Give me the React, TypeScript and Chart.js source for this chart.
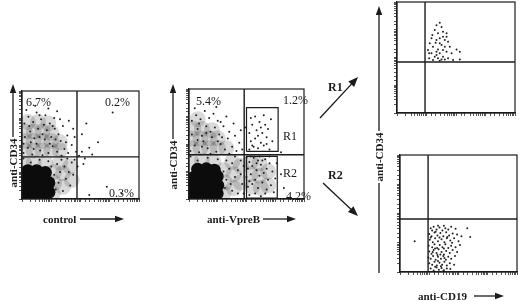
import React, { useEffect, useRef } from "react";
import { Chart, registerables } from "chart.js";
Chart.register(...registerables);

type Pt = [number, number];

// All event coordinates are in decades of log10 fluorescence (0 .. 4).
const AXIS_RANGE: [number, number] = [0, 4];

// ---- Panel A: control vs anti-CD34 ----
const controlQuadrant: Pt = [1.88, 1.56];
const controlCore: Pt[] = [
  [0.12, 0.15], [0.42, 0.12], [0.72, 0.15], [0.92, 0.25], [0.12, 0.45], [0.42, 0.45], [0.72, 0.45],
  [0.92, 0.6], [0.12, 0.75], [0.42, 0.78], [0.72, 0.75], [0.2, 1.05], [0.5, 1.05], [0.8, 0.98],
];
const controlHaze: Pt[] = [
  [1.05, 0.2], [1.1, 0.6], [1.1, 1.0], [0.8, 1.3], [0.4, 1.35], [0.08, 1.3], [1.4, 0.45], [1.4, 0.95],
  [1.3, 1.35], [1.65, 1.2], [1.7, 0.7],
  [0.1, 1.8], [0.4, 1.8], [0.7, 1.8], [1.0, 1.8], [1.3, 1.8], [0.1, 2.15], [0.4, 2.15], [0.7, 2.15],
  [1.0, 2.15], [1.3, 2.1], [0.1, 2.5], [0.4, 2.5], [0.7, 2.5], [1.0, 2.45], [0.2, 2.85], [0.55, 2.85], [0.9, 2.8],
];
const controlEvents: Pt[] = [
  [0.05, 1.7], [0.2, 1.9], [0.35, 1.65], [0.5, 2.05], [0.62, 1.8], [0.78, 2.2], [0.9, 1.7], [1.05, 1.95],
  [1.2, 1.75], [1.32, 2.15], [1.45, 1.85], [1.58, 1.7], [1.7, 2.0], [0.1, 2.3], [0.28, 2.5], [0.42, 2.25],
  [0.55, 2.6], [0.7, 2.4], [0.85, 2.55], [1.0, 2.3], [1.12, 2.6], [1.25, 2.4], [1.4, 2.7], [1.55, 2.35],
  [0.08, 2.8], [0.22, 3.05], [0.38, 2.85], [0.5, 3.2], [0.65, 2.95], [0.8, 3.1], [0.95, 2.8], [1.1, 3.0],
  [1.3, 2.95], [1.6, 2.9], [1.75, 2.6], [0.15, 3.3], [0.45, 3.45], [0.9, 3.35], [1.2, 3.25], [0.3, 2.1],
  [0.6, 2.3], [0.95, 2.05], [1.15, 2.2], [0.05, 2.05], [0.4, 1.85], [0.7, 1.62], [1.35, 1.6], [1.5, 2.1],
  [1.85, 1.75], [1.8, 2.3], [0.25, 2.7], [0.75, 2.75], [1.05, 2.7], [0.6, 3.1],
  [1.05, 0.1], [1.15, 0.35], [1.25, 0.6], [1.1, 0.9], [1.3, 1.0], [1.4, 0.3], [1.5, 0.75], [1.45, 1.2],
  [1.6, 1.0], [1.7, 1.35], [1.8, 1.45], [1.65, 0.5], [1.2, 1.3], [1.35, 1.45], [0.9, 1.4], [0.6, 1.45],
  [0.3, 1.35], [0.05, 1.5], [1.55, 1.5], [1.75, 0.9], [1.0, 1.2], [1.9, 1.2],
  [1.95, 1.6], [2.05, 1.75], [2.15, 1.5], [2.3, 1.9], [2.05, 2.4], [2.2, 2.8], [2.4, 1.65], [2.1, 1.3],
  [2.3, 0.15], [2.9, 0.45], [3.4, 0.2], [2.6, 2.1], [3.1, 3.2],
];

// ---- Panel B: anti-VpreB vs anti-CD34 ----
const vpreBQuadrant: Pt = [1.92, 1.61];
const gateR1: [number, number, number, number] = [2.0, 1.73, 3.1, 3.32];
const gateR2: [number, number, number, number] = [2.0, 0.03, 3.07, 1.55];
const vpreBCore: Pt[] = [
  [0.12, 0.15], [0.42, 0.12], [0.72, 0.15], [0.98, 0.2], [0.12, 0.45], [0.42, 0.45], [0.72, 0.45],
  [1.0, 0.5], [0.15, 0.78], [0.45, 0.8], [0.75, 0.78], [0.98, 0.82], [0.3, 1.08], [0.6, 1.1], [0.88, 1.05],
];
const vpreBHaze: Pt[] = [
  [1.2, 0.2], [1.25, 0.6], [1.2, 1.05], [0.85, 1.35], [0.45, 1.4], [0.08, 1.35], [1.55, 0.4], [1.55, 0.9],
  [1.5, 1.35], [1.8, 1.2], [1.8, 0.6],
  [2.15, 1.35], [2.45, 1.3], [2.15, 0.9], [2.45, 0.85], [2.2, 0.45], [2.5, 0.4], [2.75, 1.0], [2.75, 0.5],
  [0.1, 1.85], [0.4, 1.85], [0.7, 1.85], [1.0, 1.85], [1.3, 1.85], [0.1, 2.2], [0.4, 2.2], [0.7, 2.2],
  [1.0, 2.2], [0.15, 2.55], [0.45, 2.55], [0.8, 2.5], [0.3, 2.9],
];
const vpreBEvents: Pt[] = [
  [0.05, 1.75], [0.2, 1.95], [0.35, 1.7], [0.5, 2.1], [0.65, 1.85], [0.8, 2.25], [0.95, 1.72], [1.1, 2.0],
  [1.25, 1.8], [1.35, 2.2], [1.5, 1.9], [1.65, 1.75], [1.75, 2.05], [0.1, 2.35], [0.3, 2.55], [0.45, 2.3],
  [0.6, 2.65], [0.75, 2.45], [0.9, 2.6], [1.05, 2.35], [1.2, 2.65], [1.4, 2.45], [1.55, 2.75], [0.1, 2.85],
  [0.25, 3.05], [0.4, 2.9], [0.55, 3.2], [0.7, 2.95], [0.85, 3.1], [1.0, 2.85], [1.3, 3.0], [1.6, 2.3],
  [0.3, 2.15], [0.6, 2.4], [1.0, 2.1], [1.15, 2.25], [0.45, 1.9], [0.75, 1.65], [1.4, 1.65], [1.85, 1.8],
  [1.8, 2.5], [0.2, 3.3], [0.95, 3.35], [0.35, 2.75], [1.1, 2.8],
  [1.15, 0.1], [1.25, 0.4], [1.3, 0.7], [1.2, 1.0], [1.4, 1.1], [1.5, 0.3], [1.6, 0.8], [1.5, 1.3],
  [1.7, 1.05], [1.8, 1.4], [1.85, 0.55], [1.7, 0.2], [1.3, 1.4], [1.0, 1.45], [0.65, 1.5], [0.3, 1.4],
  [0.05, 1.55], [1.6, 1.55], [1.8, 0.9], [1.9, 0.2], [1.45, 0.55], [1.9, 1.2],
  [2.0, 1.5], [2.1, 1.35], [2.25, 1.5], [2.4, 1.4], [2.05, 1.1], [2.2, 1.2], [2.35, 1.05], [2.5, 1.25],
  [2.65, 1.45], [2.8, 1.3], [2.0, 0.8], [2.15, 0.9], [2.3, 0.7], [2.45, 0.85], [2.6, 0.95], [2.75, 0.7],
  [2.9, 1.0], [2.05, 0.45], [2.2, 0.55], [2.4, 0.4], [2.55, 0.6], [2.7, 0.35], [2.85, 0.5], [3.0, 0.75],
  [2.1, 0.15], [2.3, 0.2], [2.5, 0.1], [2.65, 0.2], [2.95, 0.25], [2.15, 1.55], [2.45, 1.55], [2.7, 1.1],
  [3.05, 1.3], [2.35, 1.3], [2.55, 1.4], [2.1, 0.65], [3.2, 0.9], [3.3, 0.4], [2.8, 1.55],
  [2.1, 1.8], [2.25, 1.9], [2.4, 1.85], [2.6, 1.95], [2.8, 1.8], [2.15, 2.1], [2.3, 2.2], [2.5, 2.05],
  [2.7, 2.25], [2.9, 2.1], [2.1, 2.4], [2.35, 2.5], [2.55, 2.4], [2.75, 2.55], [2.2, 2.7], [2.45, 2.8],
  [2.65, 2.7], [2.85, 2.9], [2.3, 3.0], [2.6, 3.05], [2.15, 2.95], [2.5, 2.6], [2.4, 2.3], [2.2, 1.95],
  [2.7, 2.0], [3.2, 1.7], [1.95, 2.6],
];

// ---- Panel C: R1 gated, anti-CD19 vs anti-CD34 ----
const r1Quadrant: Pt = [0.95, 1.84];
const r1Events: Pt[] = [
  [1.45, 3.25], [1.34, 3.16], [1.51, 3.1], [1.28, 2.99], [1.56, 2.93], [1.68, 2.87], [1.39, 2.87],
  [1.17, 2.69], [1.45, 2.69], [1.62, 2.63], [1.73, 2.57], [1.31, 2.53], [1.11, 2.51], [1.51, 2.45],
  [1.79, 2.39], [1.22, 2.39], [1.39, 2.29], [1.56, 2.27], [1.34, 2.21], [1.68, 2.21], [1.17, 2.15],
  [1.45, 2.15], [2.02, 2.29], [2.13, 2.21], [1.85, 2.15], [1.28, 2.03], [1.39, 1.97], [1.56, 2.03],
  [1.51, 1.93], [1.73, 1.97], [1.09, 1.97], [1.22, 1.91], [2.13, 1.93], [1.34, 2.09], [1.62, 2.39],
  [1.45, 2.51], [1.2, 2.81], [1.56, 2.75], [1.68, 2.75], [1.34, 2.63], [1.05, 2.27], [1.09, 2.15],
  [1.9, 1.91], [1.45, 1.88], [1.62, 1.93],
];

// ---- Panel D: R2 gated, anti-CD19 vs anti-CD34 ----
const r2Quadrant: Pt = [0.96, 1.81];
const r2Events: Pt[] = [
  [1.05, 1.5], [1.15, 1.55], [1.25, 1.45], [1.35, 1.52], [1.45, 1.42], [1.55, 1.5], [1.65, 1.45],
  [1.75, 1.55], [1.9, 1.48], [2.3, 1.5], [2.4, 1.2], [1.1, 1.42], [1.3, 1.58], [1.5, 1.58],
  [1.0, 1.3], [1.08, 1.22], [1.18, 1.35], [1.28, 1.25], [1.38, 1.33], [1.48, 1.22], [1.58, 1.36],
  [1.68, 1.25], [1.8, 1.32], [1.95, 1.28], [2.1, 1.22], [1.22, 1.38], [1.62, 1.2], [0.5, 1.05],
  [1.02, 1.1], [1.12, 1.02], [1.2, 1.15], [1.3, 1.05], [1.42, 1.12], [1.52, 1.02], [1.6, 1.15],
  [1.72, 1.08], [1.85, 1.15], [2.0, 1.05], [1.05, 1.18], [1.35, 1.18], [1.78, 1.0],
  [0.98, 0.9], [1.1, 0.85], [1.18, 0.95], [1.27, 0.82], [1.36, 0.92], [1.45, 0.85], [1.55, 0.95],
  [1.65, 0.82], [1.75, 0.9], [1.9, 0.85], [2.05, 0.92], [1.2, 0.8], [1.5, 0.8],
  [1.0, 0.7], [1.08, 0.62], [1.15, 0.75], [1.25, 0.65], [1.32, 0.78], [1.42, 0.68], [1.5, 0.6],
  [1.58, 0.72], [1.7, 0.65], [1.8, 0.75], [1.95, 0.68], [1.38, 0.6], [1.12, 0.68],
  [0.97, 0.5], [1.05, 0.45], [1.13, 0.55], [1.22, 0.42], [1.3, 0.52], [1.4, 0.45], [1.48, 0.55],
  [1.57, 0.42], [1.65, 0.52], [1.75, 0.45], [1.88, 0.55], [1.28, 0.58], [1.52, 0.48],
  [1.0, 0.3], [1.1, 0.25], [1.18, 0.35], [1.26, 0.22], [1.35, 0.32], [1.44, 0.25], [1.52, 0.35],
  [1.6, 0.22], [1.7, 0.3], [1.85, 0.25], [1.3, 0.38], [1.4, 0.2],
  [1.05, 0.12], [1.15, 0.05], [1.25, 0.15], [1.33, 0.08], [1.42, 0.14], [1.5, 0.06], [1.6, 0.12],
  [1.72, 0.1], [1.2, 0.18], [1.45, 0.02],
];

// ---- Layout (pixel boxes of the plot frames) ----
type Box = [number, number, number, number];
interface PanelSpec {
  box: Box;
  quad: Pt;
  core?: Pt[];
  haze?: Pt[];
  events: Pt[];
  gates?: Box[];
}

const PANELS: PanelSpec[] = [
  { box: [22, 91, 139, 199], quad: controlQuadrant, core: controlCore, haze: controlHaze, events: controlEvents },
  { box: [189, 89, 304, 199], quad: vpreBQuadrant, core: vpreBCore, haze: vpreBHaze, events: vpreBEvents, gates: [gateR1, gateR2] },
  { box: [397, 2, 515, 113], quad: r1Quadrant, events: r1Events },
  { box: [400, 155, 517, 272], quad: r2Quadrant, events: r2Events },
];

const INK = "#1b1b1b";
const SERIF = '"Liberation Serif", "Times New Roman", serif';

const toPt = (p: Pt) => ({ x: Math.pow(10, p[0]), y: Math.pow(10, p[1]) });
const LO = Math.pow(10, AXIS_RANGE[0]);
const HI = Math.pow(10, AXIS_RANGE[1]);

const framePlugin = {
  id: "frame",
  afterDatasetsDraw(chart: any) {
    const { ctx, chartArea: a } = chart;
    ctx.save();
    ctx.strokeStyle = INK;
    ctx.lineWidth = 1.2;
    ctx.strokeRect(a.left, a.top, a.right - a.left, a.bottom - a.top);
    ctx.restore();
  },
};

function buildConfig(spec: PanelSpec): any {
  const datasets: any[] = [];
  const line = (pts: { x: number; y: number }[]) => ({
    data: pts,
    showLine: true,
    borderColor: INK,
    borderWidth: 1.4,
    pointRadius: 0,
    tension: 0,
    clip: 0,
  });
  const qx = Math.pow(10, spec.quad[0]);
  const qy = Math.pow(10, spec.quad[1]);
  datasets.push(line([{ x: qx, y: LO }, { x: qx, y: HI }]));
  datasets.push(line([{ x: LO, y: qy }, { x: HI, y: qy }]));
  (spec.gates || []).forEach((g) => {
    const [x0, y0, x1, y1] = g;
    datasets.push({
      ...line([[x0, y0], [x1, y0], [x1, y1], [x0, y1], [x0, y0]].map((p) => toPt(p as Pt))),
      borderWidth: 1.2,
    });
  });
  datasets.push({
    data: spec.events.map(toPt),
    pointRadius: 1,
    backgroundColor: "#222",
    borderWidth: 0,
    clip: 0,
  });
  if (spec.core) {
    datasets.push({
      data: spec.core.map(toPt),
      pointRadius: 6.5,
      backgroundColor: "#0c0c0c",
      borderWidth: 0,
      clip: 0,
    });
  }
  if (spec.haze) {
    datasets.push({
      data: spec.haze.map(toPt),
      pointRadius: 8,
      backgroundColor: "rgba(0,0,0,0.15)",
      borderWidth: 0,
      clip: 0,
    });
  }
  const axis = {
    type: "logarithmic",
    min: LO,
    max: HI,
    ticks: { display: false },
    grid: { drawOnChartArea: false, drawTicks: true, tickLength: 3, color: "#555", tickColor: "#555" },
    border: { display: true, color: INK, width: 1.2 },
  };
  return {
    type: "scatter",
    data: { datasets },
    options: {
      animation: false,
      responsive: false,
      events: [],
      layout: { autoPadding: false, padding: { left: 2, top: 2, right: 2, bottom: 2 } },
      plugins: { legend: { display: false }, tooltip: { enabled: false } },
      scales: { x: { ...axis }, y: { ...axis } },
    },
    plugins: [framePlugin],
  };
}

function Panel({ spec }: { spec: PanelSpec }) {
  const ref = useRef<HTMLCanvasElement>(null);
  useEffect(() => {
    const chart = new Chart(ref.current as HTMLCanvasElement, buildConfig(spec));
    return () => chart.destroy();
  }, [spec]);
  const [l, t, r, b] = spec.box;
  const left = l - 5;
  const top = t - 2;
  const w = r - left + 2;
  const h = b + 5 - top;
  return (
    <canvas
      ref={ref}
      width={w}
      height={h}
      style={{ position: "absolute", left, top, width: w, height: h }}
    />
  );
}

function Label({ x, y, text, bold, size = 11, rotate }: { x: number; y: number; text: string; bold?: boolean; size?: number; rotate?: boolean }) {
  const style: React.CSSProperties = {
    position: "absolute",
    left: x,
    top: y,
    fontFamily: SERIF,
    fontWeight: bold ? 700 : 400,
    fontSize: size,
    lineHeight: 1,
    color: INK,
    whiteSpace: "nowrap",
    transform: rotate ? "translate(-50%, -50%) rotate(-90deg)" : "translate(0, -50%)",
  };
  return <div style={style}>{text}</div>;
}

function Arrow({ x1, y1, x2, y2, head = 9, half = 3.2 }: { x1: number; y1: number; x2: number; y2: number; head?: number; half?: number }) {
  const dx = x2 - x1;
  const dy = y2 - y1;
  const len = Math.hypot(dx, dy);
  const ux = dx / len;
  const uy = dy / len;
  const bx = x2 - ux * head;
  const by = y2 - uy * head;
  const pts = `${x2},${y2} ${bx - uy * half},${by + ux * half} ${bx + uy * half},${by - ux * half}`;
  return (
    <g>
      <line x1={x1} y1={y1} x2={bx + ux} y2={by + uy} stroke={INK} strokeWidth={1.3} />
      <polygon points={pts} fill={INK} />
    </g>
  );
}

export default function App() {
  return (
    <div style={{ position: "absolute", left: 0, top: 0, width: 520, height: 301, background: "#fff", overflow: "hidden" }}>
      {PANELS.map((p, i) => (
        <Panel key={i} spec={p} />
      ))}
      <svg width={520} height={301} style={{ position: "absolute", left: 0, top: 0, pointerEvents: "none" }}>
        <Arrow x1={13} y1={137} x2={13} y2={84} />
        <Arrow x1={173} y1={139} x2={173} y2={84} />
        <Arrow x1={379} y1={131} x2={379} y2={6} />
        <line x1={379} y1={183} x2={379} y2={273} stroke={INK} strokeWidth={1.3} />
        <Arrow x1={80} y1={219} x2={124} y2={219} />
        <Arrow x1={263} y1={219} x2={296} y2={219} />
        <Arrow x1={474} y1={296} x2={504} y2={296} />
        <Arrow x1={320} y1={118} x2={358} y2={77} head={10} half={4} />
        <Arrow x1={323} y1={183} x2={358} y2={216} head={10} half={4} />
      </svg>
      <Label x={26} y={102} text="6.7%" size={12} />
      <Label x={105} y={102} text="0.2%" size={12} />
      <Label x={109} y={193} text="0.3%" size={12} />
      <Label x={196} y={101} text="5.4%" size={12} />
      <Label x={283} y={100} text="1.2%" size={12} />
      <Label x={283} y={136} text="R1" size={12} />
      <Label x={283} y={173} text="R2" size={12} />
      <Label x={286} y={196} text="4.2%" size={12} />
      <Label x={13} y={163} text="anti-CD34" bold rotate />
      <Label x={173} y={165} text="anti-CD34" bold rotate />
      <Label x={379} y={157} text="anti-CD34" bold rotate />
      <Label x={43} y={219} text="control" bold />
      <Label x={207} y={219} text="anti-VpreB" bold />
      <Label x={418} y={296} text="anti-CD19" bold />
      <Label x={328} y={87} text="R1" bold size={12} />
      <Label x={328} y={175} text="R2" bold size={12} />
    </div>
  );
}
